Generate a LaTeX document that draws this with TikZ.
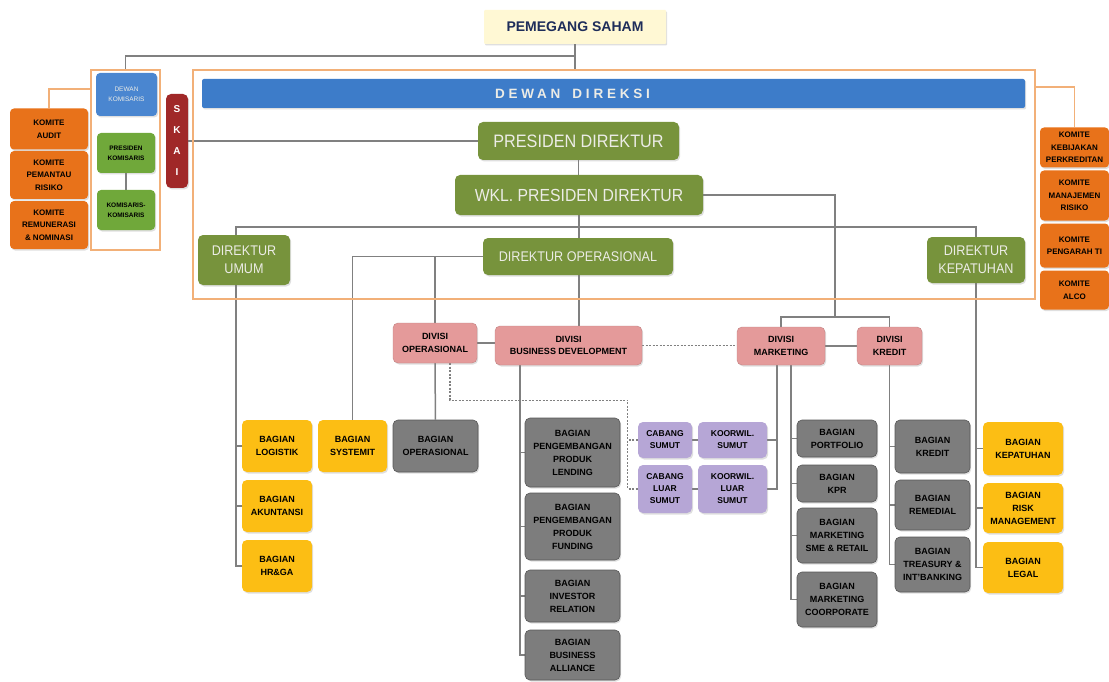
\documentclass[tikz,border=0pt]{standalone}
\usepackage{fontspec}
\setmainfont{Liberation Sans}
\newfontfamily\dirfont{Liberation Sans}[FakeStretch=0.9]
\newfontfamily\spacedfont{Liberation Sans}[LetterSpace=28]
\usetikzlibrary{backgrounds,shadows}

\definecolor{lineg}{RGB}{128,128,128}
\definecolor{frameor}{RGB}{242,176,120}
\definecolor{komor}{RGB}{232,114,26}
\definecolor{dirgreen}{RGB}{119,147,60}
\definecolor{komgreen}{RGB}{112,168,58}
\definecolor{dirtext}{RGB}{236,236,230}
\definecolor{barblue}{RGB}{61,124,201}
\definecolor{komblue}{RGB}{74,134,208}
\definecolor{skaired}{RGB}{160,40,40}
\definecolor{divpink}{RGB}{228,154,154}
\definecolor{bggrey}{RGB}{125,125,125}
\definecolor{bgyellow}{RGB}{252,190,20}
\definecolor{cablav}{RGB}{182,166,214}
\definecolor{sahamfill}{RGB}{255,248,212}
\definecolor{sahamtext}{RGB}{30,45,90}

\begin{document}
\begin{tikzpicture}[x=1pt,y=-1pt,
sz/.style 2 args={minimum width=#1pt,minimum height=#2pt},
box/.style={rounded corners=5pt,align=center,inner sep=1pt,drop shadow={opacity=.25,shadow xshift=1.2pt,shadow yshift=-1.5pt}},
orframe/.style={draw=frameor,line width=2pt,inner sep=0pt},
dir/.style={box,fill=dirgreen,text=dirtext,font=\dirfont\fontsize{14}{18}\selectfont},
kom/.style={box,rounded corners=4pt,fill=komor,font=\bfseries\fontsize{8}{12.5}\selectfont},
kbox/.style={box,rounded corners=4pt,fill=komgreen,font=\bfseries\fontsize{6.5}{10}\selectfont},
pbox/.style={box,fill=divpink,draw=divpink!85!black,line width=.4pt,font=\bfseries\fontsize{9}{12.5}\selectfont},
gbox/.style={box,fill=bggrey,draw=bggrey!70!black,line width=.6pt,font=\bfseries\fontsize{9}{13}\selectfont},
ybox/.style={box,fill=bgyellow,font=\bfseries\fontsize{9}{13}\selectfont},
lbox/.style={box,fill=cablav,font=\bfseries\fontsize{8.5}{12}\selectfont},
conn/.style={draw=lineg,line width=1.5pt},
dline/.style={draw=lineg,line width=1.3pt,dash pattern=on 2pt off 1.5pt},
oline/.style={draw=frameor,line width=1.5pt}]
\begin{scope}[on background layer]
\fill[white](0,0)rectangle(1109,682);
\end{scope}
\useasboundingbox(0,0)rectangle(1109,682);

% frames
\node[orframe,sz={842}{229}](mainframe) at (614,184.5){};
\node[orframe,sz={69}{180}](komframe) at (125.5,160){};

% top
\node[box,rounded corners=1pt,fill=sahamfill,text=sahamtext,sz={182}{34},font=\bfseries\fontsize{14}{16}\selectfont](saham) at (575,27){PEMEGANG SAHAM};
\node[box,rounded corners=2pt,fill=barblue,sz={823}{29},label={[xshift=-41pt,text=dirtext,font=\spacedfont\bfseries\fontsize{13.5}{15}\selectfont]center:DEWAN\hspace{12pt}DIREKSI}](direksi) at (613.5,93.5){};
\node[box,fill=skaired,text=white,sz={22}{94},font=\bfseries\fontsize{10}{21}\selectfont](skai) at (177,141){S\\K\\A\\I};

% komisaris
\node[box,rounded corners=4pt,fill=komblue,text=dirtext,sz={61}{43},font=\fontsize{6.5}{10}\selectfont](dewankom) at (126.5,94.5){DEWAN\\KOMISARIS};
\node[kbox,sz={58}{40}](preskom) at (126,153){PRESIDEN\\KOMISARIS};
\node[kbox,sz={58}{40}](komisaris) at (126,210){KOMISARIS-\\KOMISARIS};
\node[kom,sz={78}{41}](audit) at (49,129){KOMITE\\AUDIT};
\node[kom,sz={78}{48}](pemantau) at (49,175){KOMITE\\PEMANTAU\\RISIKO};
\node[kom,sz={78}{48}](remunerasi) at (49,225){KOMITE\\REMUNERASI\\\& NOMINASI};
\node[kom,sz={69}{40}](kebijakan) at (1074.5,147.5){KOMITE\\KEBIJAKAN\\PERKREDITAN};
\node[kom,sz={69}{50}](manrisk) at (1074.5,195.5){KOMITE\\MANAJEMEN\\RISIKO};
\node[kom,sz={69}{44}](pengarah) at (1074.5,245.5){KOMITE\\PENGARAH TI};
\node[kom,sz={69}{39}](alco) at (1074.5,290){KOMITE\\ALCO};

% direksi
\node[dir,sz={201}{38},font=\dirfont\fontsize{18}{20}\selectfont](presdir) at (578.5,141){PRESIDEN DIREKTUR};
\node[dir,sz={248}{40},font=\dirfont\fontsize{17.5}{20}\selectfont](wkl) at (579,195){WKL. PRESIDEN DIREKTUR};
\node[dir,sz={92}{50}](dirumum) at (244,260){DIREKTUR\\UMUM};
\node[dir,sz={190}{37}](dirops) at (578,256.5){DIREKTUR OPERASIONAL};
\node[dir,sz={98}{46}](dirkep) at (976,260){DIREKTUR\\KEPATUHAN};

% divisi
\node[pbox,sz={84}{40}](divops) at (435,343){DIVISI\\OPERASIONAL};
\node[pbox,sz={147}{39}](bd) at (568.5,345.5){DIVISI\\BUSINESS DEVELOPMENT};
\node[pbox,sz={88}{38}](mkt) at (781,346){DIVISI\\MARKETING};
\node[pbox,sz={65}{38}](kredit) at (889.5,346){DIVISI\\KREDIT};

% bagian
\node[ybox,sz={70}{52}](logistik) at (277,446){BAGIAN\\LOGISTIK};
\node[ybox,sz={70}{52}](akuntansi) at (277,506){BAGIAN\\AKUNTANSI};
\node[ybox,sz={70}{52}](hrga) at (277,566){BAGIAN\\HR\&GA};
\node[ybox,sz={69}{52}](systemit) at (352.5,446){BAGIAN\\SYSTEMIT};
\node[gbox,sz={85}{52}](bagops) at (435.5,446){BAGIAN\\OPERASIONAL};
\node[gbox,sz={95}{69}](lending) at (572.5,452.5){BAGIAN\\PENGEMBANGAN\\PRODUK\\LENDING};
\node[gbox,sz={95}{67}](funding) at (572.5,526.5){BAGIAN\\PENGEMBANGAN\\PRODUK\\FUNDING};
\node[gbox,sz={95}{52}](investor) at (572.5,596){BAGIAN\\INVESTOR\\RELATION};
\node[gbox,sz={95}{50}](alliance) at (572.5,655){BAGIAN\\BUSINESS\\ALLIANCE};
\node[lbox,sz={54}{36}](cabsumut) at (665,440){CABANG\\SUMUT};
\node[lbox,sz={69}{36}](koorsumut) at (732.5,440){KOORWIL.\\SUMUT};
\node[lbox,sz={54}{48}](cabluar) at (665,489){CABANG\\LUAR\\SUMUT};
\node[lbox,sz={69}{48}](koorluar) at (732.5,489){KOORWIL.\\LUAR\\SUMUT};
\node[gbox,sz={80}{37}](portfolio) at (837,438.5){BAGIAN\\PORTFOLIO};
\node[gbox,sz={80}{37}](kpr) at (837,483.5){BAGIAN\\KPR};
\node[gbox,sz={80}{55}](sme) at (837,535.5){BAGIAN\\MARKETING\\SME \& RETAIL};
\node[gbox,sz={80}{55}](corporate) at (837,599.5){BAGIAN\\MARKETING\\COORPORATE};
\node[gbox,sz={75}{53}](bkredit) at (932.5,446.5){BAGIAN\\KREDIT};
\node[gbox,sz={75}{50}](remedial) at (932.5,505){BAGIAN\\REMEDIAL};
\node[gbox,sz={75}{55}](treasury) at (932.5,564.5){BAGIAN\\TREASURY \&\\INT'BANKING};
\node[ybox,sz={80}{53}](bkep) at (1023,448.5){BAGIAN\\KEPATUHAN};
\node[ybox,sz={80}{50}](risk) at (1023,508){BAGIAN\\RISK\\MANAGEMENT};
\node[ybox,sz={80}{51}](legal) at (1023,567.5){BAGIAN\\LEGAL};

\coordinate (mkfork) at (835,317);

\begin{scope}[on background layer]
% garis atas
\draw[conn](saham.south)--(saham.south|-mainframe.north);
\draw[conn](saham.south)--++(0,12)-|(komframe.north);
\draw[conn](preskom)--(komisaris);
\draw[oline](audit.north)|-([yshift=-20pt]komframe.north west);
\draw[oline](kebijakan.north)|-([yshift=-18pt]mainframe.north east);
\draw[conn](skai)--(presdir);
\draw[conn](presdir.south)--(presdir.south|-wkl.north);
\draw[conn](wkl)--(wkl|-bd.north);
\draw[conn]([xshift=-8pt]dirumum.north)|-([yshift=-12pt]wkl.south)-|(dirkep.north);
\draw[conn](wkl.east)-|(mkfork);
\draw[conn](mkt.north)|-(mkfork)-|(kredit.north);
% divisi
\draw[conn](dirops.west)-|(systemit.north);
\draw[conn](divops.north)|-(dirops.west);
\draw[conn](divops)--(bagops);
\draw[conn](divops.east)--(divops.east-|bd.west);
\draw[dline](bd.east)--(bd.east-|mkt.west);
\draw[conn](mkt.east)--(kredit.west);
\draw[dline]([xshift=15pt]divops.south)--++(0,37)-|([xshift=-10pt]cabluar.west)--(cabluar.west);
\draw[dline](cabsumut.west)--++(-10,0);
\draw[conn](cabsumut)--(koorsumut);
\draw[conn](cabluar)--(koorluar);
% bagian
\foreach \b in {logistik,akuntansi,hrga}
  \draw[conn]([xshift=-8pt]dirumum.south)|-(\b.west);
\foreach \b in {lending,funding,investor,alliance}
  \draw[conn]([xshift=25pt]bd.south west)|-(\b.west);
\foreach \b in {koorsumut,koorluar}
  \draw[conn]([xshift=-4pt]mkt.south)|-(\b.east);
\foreach \b in {portfolio,kpr,sme,corporate}
  \draw[conn]([xshift=10pt]mkt.south)|-(\b.west);
\foreach \b in {bkredit,remedial,treasury}
  \draw[conn](kredit.south)|-(\b.west);
\foreach \b in {bkep,risk,legal}
  \draw[conn](dirkep.south)|-(\b.west);
\end{scope}
\end{tikzpicture}
\end{document}
